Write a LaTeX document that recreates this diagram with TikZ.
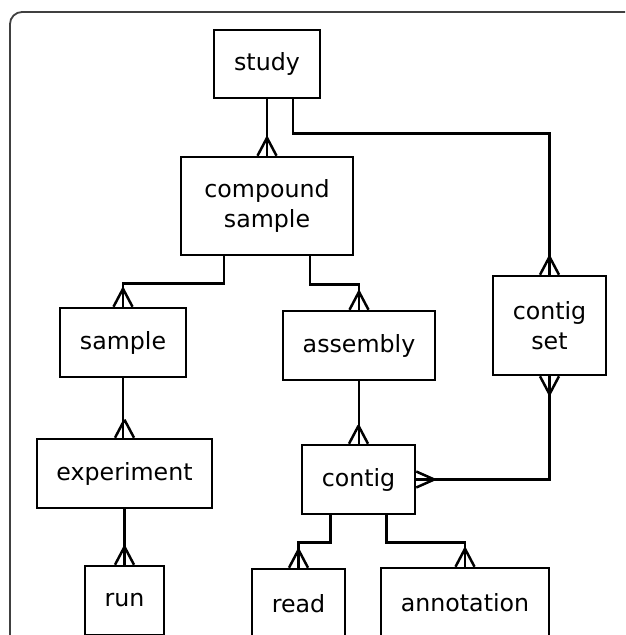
\documentclass[tikz,border=0pt]{standalone}
\usepackage{fontspec}
\setmainfont{DejaVu Sans}
\usetikzlibrary{calc}
\tikzset{
  ent/.style={draw, line width=2.5pt, align=center, inner sep=0pt,
    font=\fontsize{23.7}{30}\selectfont},
  conn/.style={line width=2.5pt},
  frame/.style={line width=1.8pt, draw=black!75}
}
\newcommand{\crowN}[1]{\draw[conn] ($(#1.north)+(0,-18)$) -- ($(#1.north)+(-9.5,0)$)
  ($(#1.north)+(0,-18)$) -- ($(#1.north)+(9.5,0)$);}
\newcommand{\crowS}[1]{\draw[conn] ($(#1.south)+(0,18)$) -- ($(#1.south)+(-9.5,0)$)
  ($(#1.south)+(0,18)$) -- ($(#1.south)+(9.5,0)$);}
\newcommand{\crowE}[1]{\draw[conn] ($(#1.east)+(18,0)$) -- ($(#1.east)+(0,-8)$)
  ($(#1.east)+(18,0)$) -- ($(#1.east)+(0,8)$);}
\begin{document}
\begin{tikzpicture}[x=1pt,y=-1pt]
\useasboundingbox (0,0) rectangle (625,635);
\clip (0,0) rectangle (625,635);
\draw[frame, rounded corners=12] (640,12) -- (10,12) -- (10,650);

\node[ent, minimum width=106, minimum height=68] (study) at (267,64) {study};
\node[ent, minimum width=172, minimum height=98] (comp) at (267,206) {compound\\sample};
\node[ent, minimum width=126, minimum height=69] (sample) at (123,342.5) {sample};
\node[ent, minimum width=152, minimum height=69] (assembly) at (359,345.5) {assembly};
\node[ent, minimum width=113, minimum height=99] (cset) at (549.5,325.5) {contig\\set};
\node[ent, minimum width=175, minimum height=69] (experiment) at (124.5,473.5) {experiment};
\node[ent, minimum width=113, minimum height=69] (contig) at (358.5,479.5) {contig};
\node[ent, minimum width=79, minimum height=69] (run) at (124.5,600.5) {run};
\node[ent, minimum width=93, minimum height=69] (read) at (298.5,603.5) {read};
\node[ent, minimum width=168, minimum height=69] (annotation) at (465,602.5) {annotation};

\draw[conn] (study.south) -- (comp.north);
\crowN{comp}
\draw[conn] ([xshift=26]study.south) -- ++(0,34) -| (cset.north);
\crowN{cset}
\draw[conn] ([xshift=-43]comp.south) -- ++(0,27) -| (sample.north);
\crowN{sample}
\draw[conn] ([xshift=43]comp.south) -- ++(0,28) -| (assembly.north);
\crowN{assembly}
\draw[conn] (sample.south) -- (sample.south |- experiment.north);
\crowN{experiment}
\draw[conn] (assembly.south) -- (assembly.south |- contig.north);
\crowN{contig}
\draw[conn] (cset.south) |- (contig.east);
\crowS{cset}
\crowE{contig}
\draw[conn] (experiment.south) -- (run.north);
\crowN{run}
\draw[conn] ([xshift=-28]contig.south) -- ++(0,27) -| (read.north);
\crowN{read}
\draw[conn] ([xshift=28]contig.south) -- ++(0,27) -| (annotation.north);
\crowN{annotation}
\end{tikzpicture}
\end{document}
